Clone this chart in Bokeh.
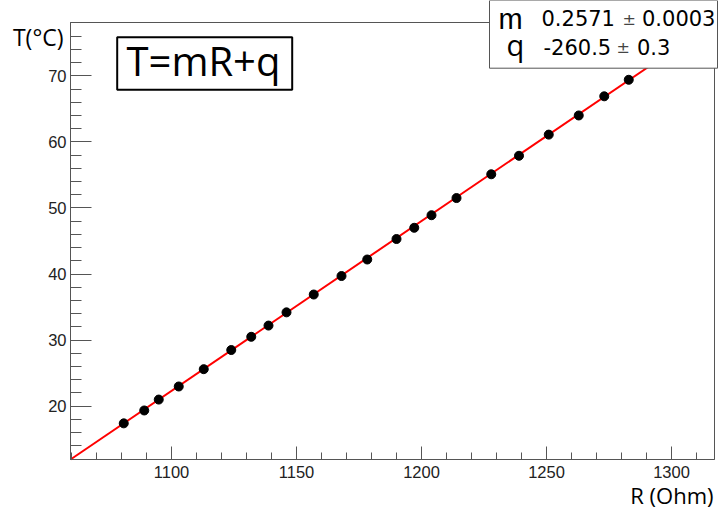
from bokeh.plotting import figure
from bokeh.models import Range1d, FixedTicker, Label, BoxAnnotation
from bokeh.embed import file_html
from bokeh.resources import INLINE

# ---- data ----
resistance = [1080.9, 1089.1, 1094.9, 1102.9, 1112.9, 1123.9, 1131.9, 1138.8, 1146.0,
              1156.9, 1168.0, 1178.3, 1190.0, 1197.1, 1204.0, 1214.0, 1227.9, 1239.0,
              1250.9, 1262.9, 1273.1, 1282.9]
temperature = [17.4, 19.35, 21.0, 22.98, 25.6, 28.5, 30.5, 32.2, 34.2,
               36.9, 39.7, 42.2, 45.3, 47.0, 48.9, 51.5, 55.1, 57.9,
               61.1, 64.0, 66.9, 69.4]
fit_m = 0.2571
fit_q = -260.5
fit_m_err = "0.0003"
fit_q_err = "0.3"
x_major = [1100, 1150, 1200, 1250, 1300]
y_major = [20, 30, 40, 50, 60, 70]

# ---- layout (pixel box of the data area inside the canvas) ----
W, H = 718, 515
FL, FR, FT, FB = 70, 714, 22, 459
X0, X1 = 1059.6, 1317.2
Y0, Y1 = 11.93, 78.07

def dx(px):
    return X0 + (px - FL) * (X1 - X0) / (FR - FL)

def dy(py):
    return Y1 - (py - FT) * (Y1 - Y0) / (FB - FT)

p = figure(width=W, height=H, output_backend="svg", toolbar_location=None,
           x_range=Range1d(dx(0), dx(W)), y_range=Range1d(dy(H), dy(0)),
           min_border=0)
p.grid.visible = False
p.background_fill_color = "white"
p.border_fill_color = "white"
p.outline_line_color = None

axcol = "#555555"
p.xaxis.ticker = FixedTicker(ticks=x_major, minor_ticks=list(range(1060, 1320, 10)))
p.yaxis.ticker = FixedTicker(ticks=y_major, minor_ticks=list(range(12, 80, 2)))
p.xaxis.fixed_location = Y0
p.yaxis.fixed_location = X0
p.xaxis.bounds = (X0, X1)
p.yaxis.bounds = (Y0, Y1)
for ax, mj, mn in ((p.xaxis, 13, 7), (p.yaxis, 21, 11)):
    ax.major_tick_in = mj
    ax.major_tick_out = 0
    ax.minor_tick_in = mn
    ax.minor_tick_out = 0
    ax.axis_line_color = axcol
    ax.major_tick_line_color = axcol
    ax.minor_tick_line_color = axcol
    ax.major_label_text_font = "Liberation Sans"
    ax.major_label_text_font_size = "16.5px"
    ax.major_label_text_color = "#222222"
p.xaxis.major_label_standoff = 6
p.yaxis.major_label_standoff = 4

# frame
p.add_layout(BoxAnnotation(left=X0, right=X1, top=Y1, bottom=Y0, fill_alpha=0,
                           line_color=axcol, line_alpha=1, line_width=1, level="underlay"))

# fit line
p.line([X0, X1], [fit_m * X0 + fit_q, fit_m * X1 + fit_q], line_color="red", line_width=2)
# data
p.scatter(resistance, temperature, size=9, color="black")


def label(px, py, text, font, size, align="left", color="black"):
    p.add_layout(Label(x=dx(px), y=dy(py), text=text, text_font=font,
                       text_font_size=f"{size}px", text_align=align,
                       text_baseline="alphabetic", text_color=color))


# formula box
p.add_layout(BoxAnnotation(left=dx(116.7), right=dx(291.7), top=dy(36.7), bottom=dy(89.3),
                           fill_color="white", fill_alpha=1, line_color="black",
                           line_alpha=1, line_width=2))
label(126, 74 - 14, "T=mR+q", "Open Sans", 40)

# stats box
p.add_layout(BoxAnnotation(left=dx(489), right=dx(717), top=dy(0), bottom=dy(67.7),
                           fill_color="white", fill_alpha=1, line_color="#555555",
                           line_alpha=1, line_width=1))
label(498, 27 - 9, "m", "Liberation Sans", 29)
label(506, 54 - 10, "q", "Open Sans", 29)
label(541, 26.7 - 9, f"{fit_m:.4f}", "DejaVu Sans", 21)
label(622, 26.7 - 8, "±", "DejaVu Sans", 16, color="#444444")
label(641.5, 26.7 - 9, fit_m_err, "DejaVu Sans", 21)
label(543, 55 - 9, f"{fit_q:.1f}", "DejaVu Sans", 21)
label(616, 55 - 8, "±", "DejaVu Sans", 16, color="#444444")
label(636.5, 55 - 9, fit_q_err, "DejaVu Sans", 21)

# axis titles
label(63, 46.7 - 10, "T(°C)", "Open Sans", 23, align="right")
label(713, 504 - 10, "R (Ohm)", "Open Sans", 22, align="right")

open("out.html", "w").write(file_html(p, INLINE))
